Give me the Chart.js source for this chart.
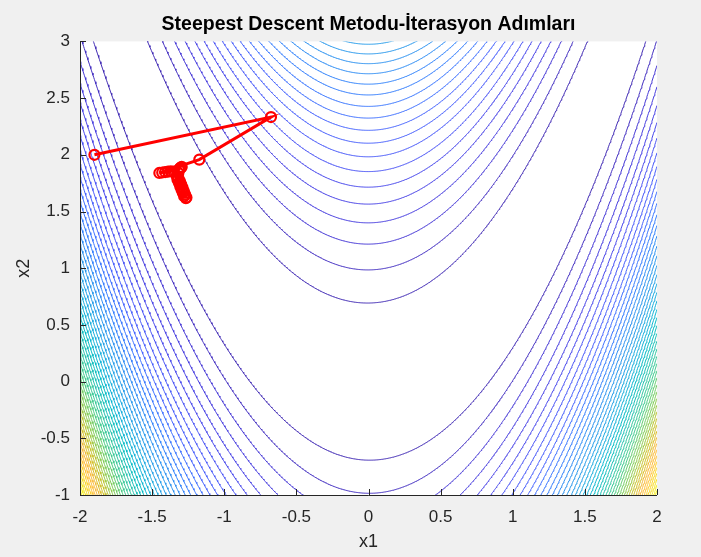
<!DOCTYPE html>
<html>
<head>
<meta charset="utf-8">
<title>Steepest Descent Metodu</title>
<script src="https://cdn.jsdelivr.net/npm/chart.js@4.4.1/dist/chart.umd.min.js"></script>
<style>
  html, body { margin: 0; padding: 0; background: #f0f0f0; }
</style>
</head>
<body>
<canvas id="myChart" width="701" height="557"></canvas>
<script>
// iteration points (x1, x2)
const iterX = [-1.9, -0.676, -1.173, -1.45, -1.295, -1.43, -1.30, -1.41, -1.305, -1.39, -1.31, -1.37, -1.315, -1.35, -1.318,
  -1.330, -1.318, -1.324, -1.307, -1.314, -1.298, -1.305, -1.289, -1.296, -1.280, -1.287, -1.271, -1.278, -1.262, -1.266];
const iterY = [2.0, 2.333, 1.958, 1.84, 1.893, 1.844, 1.888, 1.848, 1.882, 1.852, 1.876, 1.855, 1.868, 1.852, 1.84,
  1.812, 1.797, 1.781, 1.766, 1.751, 1.737, 1.722, 1.708, 1.693, 1.678, 1.664, 1.649, 1.634, 1.624, 1.618];

// contour levels of f = 100(x2 - x1^2)^2 + (1 - x1)^2
const contourLevels = [49, 98, 148, 197, 246, 295, 344, 394, 443, 492, 541, 590, 640, 689, 738, 787, 836, 886, 935, 984,
  1033, 1082, 1132, 1181, 1230, 1279, 1328, 1378, 1427, 1476, 1525, 1574, 1624, 1673, 1722, 1771, 1820, 1870, 1919, 1968,
  2017, 2066, 2116, 2165, 2214, 2263, 2312, 2362, 2411, 2460];
const zMin = 0, zMax = 2509;

const xTicks = [-2, -1.5, -1, -0.5, 0, 0.5, 1, 1.5, 2];
const yTicks = [-1, -0.5, 0, 0.5, 1, 1.5, 2, 2.5, 3];

// parula colormap (64 entries)
const parula = [[0.2422,0.1504,0.6603],[0.2504,0.1650,0.7076],[0.2578,0.1818,0.7511],[0.2647,0.1978,0.7952],
  [0.2706,0.2147,0.8364],[0.2751,0.2342,0.8710],[0.2783,0.2559,0.8991],[0.2803,0.2782,0.9221],[0.2813,0.3006,0.9414],
  [0.2810,0.3228,0.9579],[0.2795,0.3447,0.9717],[0.2760,0.3667,0.9829],[0.2699,0.3892,0.9906],[0.2602,0.4123,0.9952],
  [0.2440,0.4358,0.9988],[0.2206,0.4603,0.9973],[0.1963,0.4847,0.9892],[0.1834,0.5074,0.9798],[0.1786,0.5289,0.9682],
  [0.1764,0.5499,0.9520],[0.1687,0.5703,0.9359],[0.1540,0.5902,0.9218],[0.1460,0.6091,0.9079],[0.1380,0.6276,0.8973],
  [0.1248,0.6459,0.8883],[0.1113,0.6635,0.8763],[0.0952,0.6798,0.8598],[0.0689,0.6948,0.8394],[0.0297,0.7082,0.8163],
  [0.0036,0.7203,0.7917],[0.0067,0.7312,0.7660],[0.0433,0.7411,0.7394],[0.0964,0.7500,0.7120],[0.1408,0.7584,0.6842],
  [0.1717,0.7670,0.6554],[0.1938,0.7758,0.6251],[0.2161,0.7843,0.5923],[0.2470,0.7918,0.5567],[0.2906,0.7973,0.5188],
  [0.3406,0.8008,0.4789],[0.3909,0.8029,0.4354],[0.4456,0.8024,0.3909],[0.5044,0.7993,0.3480],[0.5616,0.7942,0.3045],
  [0.6174,0.7876,0.2612],[0.6720,0.7793,0.2227],[0.7242,0.7698,0.1910],[0.7738,0.7598,0.1646],[0.8203,0.7498,0.1535],
  [0.8634,0.7406,0.1596],[0.9035,0.7330,0.1774],[0.9393,0.7288,0.2100],[0.9728,0.7298,0.2394],[0.9956,0.7434,0.2371],
  [0.9970,0.7659,0.2199],[0.9952,0.7893,0.2028],[0.9892,0.8136,0.1885],[0.9786,0.8386,0.1766],[0.9676,0.8639,0.1643],
  [0.9610,0.8890,0.1537],[0.9597,0.9135,0.1423],[0.9628,0.9373,0.1265],[0.9691,0.9606,0.1064],[0.9769,0.9839,0.0805]];

function parulaColor(t) {
  const i = Math.max(0, Math.min(63, Math.round(t * 63)));
  return 'rgb(' + parula[i].map(v => Math.round(v * 255)).join(',') + ')';
}

// one branch of a level curve: x2 = x1^2 +/- sqrt((L - (1-x1)^2)/100)
function branch(level, sign) {
  const pts = [];
  for (let i = 0; i <= 800; i++) {
    const x = -2 + i * 0.005;
    const d = level - (1 - x) * (1 - x);
    let y = null;
    if (d >= 0) {
      y = x * x + sign * Math.sqrt(d / 100);
      if (y < -1.3 || y > 3.3) y = null;
    }
    pts.push({x: x, y: y});
  }
  return pts;
}

const datasets = [{
  data: iterX.map((x, i) => ({x: x, y: iterY[i]})),
  showLine: true,
  borderColor: '#ff0000',
  borderWidth: 3,
  pointRadius: 5,
  pointBorderWidth: 2.2,
  pointBorderColor: '#ff0000',
  pointBackgroundColor: 'rgba(0,0,0,0)'
}];

contourLevels.forEach(function (L) {
  const col = parulaColor((L - zMin) / (zMax - zMin));
  [1, -1].forEach(function (s) {
    datasets.push({
      data: branch(L, s),
      showLine: true,
      spanGaps: false,
      borderColor: col,
      borderWidth: 1,
      pointRadius: 0
    });
  });
});

const tickFont = {family: 'Liberation Sans, Arial, sans-serif', size: 17};
const labelFont = {family: 'Liberation Sans, Arial, sans-serif', size: 18};

// white axes box on a grey figure
const background = {
  id: 'background',
  beforeDraw(chart) {
    const {ctx, chartArea: a} = chart;
    ctx.save();
    ctx.fillStyle = '#f0f0f0';
    ctx.fillRect(0, 0, chart.width, chart.height);
    ctx.fillStyle = '#ffffff';
    ctx.fillRect(a.left, a.top, a.right - a.left, a.bottom - a.top);
    ctx.restore();
  }
};

// matlab style axis lines with inward ticks
const innerTicks = {
  id: 'innerTicks',
  afterDatasetsDraw(chart) {
    const {ctx, chartArea: a, scales: {x, y}} = chart;
    ctx.save();
    ctx.strokeStyle = '#262626';
    ctx.lineWidth = 1;
    ctx.beginPath();
    ctx.moveTo(a.left + 0.5, a.top);
    ctx.lineTo(a.left + 0.5, a.bottom + 0.5);
    ctx.lineTo(a.right, a.bottom + 0.5);
    xTicks.forEach(function (v) {
      const px = Math.round(x.getPixelForValue(v)) + 0.5;
      ctx.moveTo(px, a.bottom);
      ctx.lineTo(px, a.bottom - 6);
    });
    yTicks.forEach(function (v) {
      const py = Math.round(y.getPixelForValue(v)) + 0.5;
      ctx.moveTo(a.left, py);
      ctx.lineTo(a.left + 6, py);
    });
    ctx.stroke();
    ctx.restore();
  }
};

const ctx = document.getElementById('myChart').getContext('2d');
const myChart = new Chart(ctx, {
  type: 'scatter',
  data: {datasets: datasets},
  options: {
    responsive: false,
    animation: false,
    devicePixelRatio: 1,
    layout: {padding: {left: 0, right: 44, top: 0, bottom: 0}},
    plugins: {
      legend: {display: false},
      tooltip: {enabled: false},
      title: {
        display: true,
        fullSize: false,
        text: 'Steepest Descent Metodu-İterasyon Adımları',
        color: '#000000',
        font: {family: 'Liberation Sans, Arial, sans-serif', size: 19.5, weight: 'bold'},
        padding: {top: 13, bottom: 5}
      }
    },
    scales: {
      x: {
        type: 'linear',
        min: -2,
        max: 2,
        afterBuildTicks: function (s) { s.ticks = xTicks.map(v => ({value: v})); },
        afterFit: function (s) { s.height = 62; },
        grid: {display: false, drawTicks: false},
        border: {display: false},
        ticks: {color: '#262626', font: tickFont, padding: 12, maxRotation: 0, callback: v => String(v)},
        title: {display: true, text: 'x1', color: '#262626', font: labelFont, padding: {top: 0, bottom: 4}}
      },
      y: {
        type: 'linear',
        min: -1,
        max: 3,
        afterBuildTicks: function (s) { s.ticks = yTicks.map(v => ({value: v})); },
        afterFit: function (s) { s.width = 80; },
        grid: {display: false, drawTicks: false},
        border: {display: false},
        ticks: {color: '#262626', font: tickFont, padding: 10, callback: v => String(v)},
        title: {display: true, text: 'x2', color: '#262626', font: labelFont, padding: {top: 13, bottom: 0}}
      }
    }
  },
  plugins: [background, innerTicks]
});
</script>
</body>
</html>
